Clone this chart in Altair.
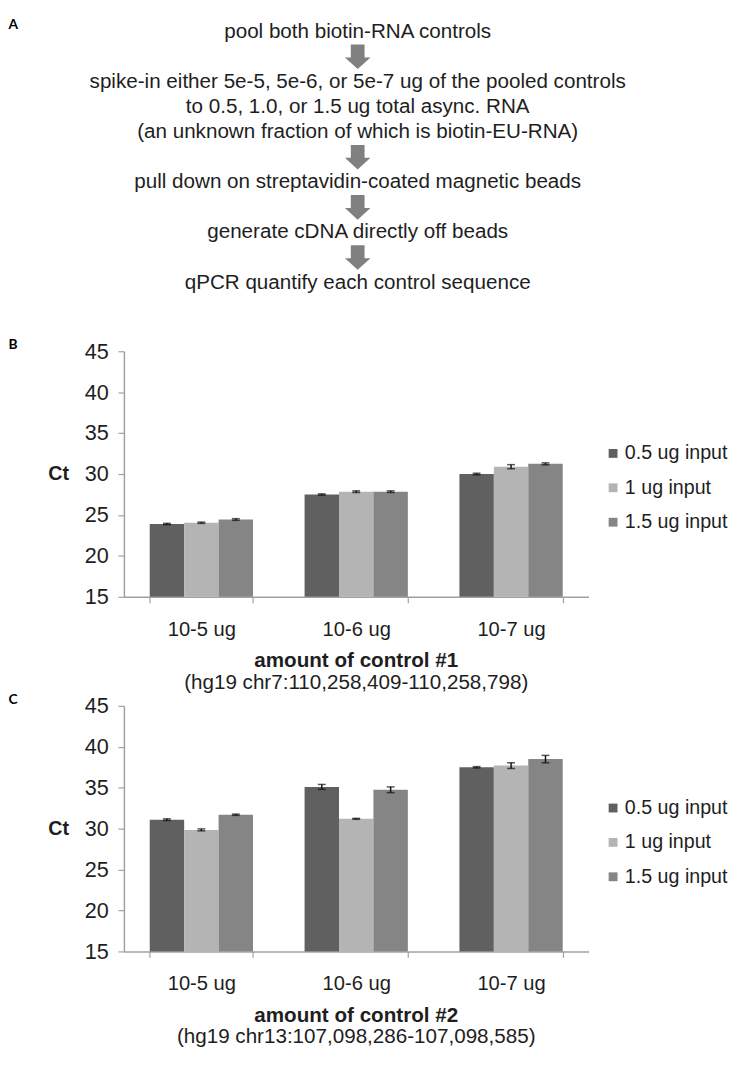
import altair as alt
import pandas as pd

# ---------------- data ----------------
flow_lines = [
    "pool both biotin-RNA controls",
    "spike-in either 5e-5, 5e-6, or 5e-7 ug of the pooled controls",
    "to 0.5, 1.0, or 1.5 ug total async. RNA",
    "(an unknown fraction of which is biotin-EU-RNA)",
    "pull down on streptavidin-coated magnetic beads",
    "generate cDNA directly off beads",
    "qPCR quantify each control sequence",
]
flow_rows = [0, 2, 3, 4, 6, 8, 10]
arrow_rows = [1, 5, 7, 9]

categories = ["10-5 ug", "10-6 ug", "10-7 ug"]
series = ["0.5 ug input", "1 ug input", "1.5 ug input"]
colors = ["#606060", "#b4b4b4", "#858585"]

ct1_05 = [23.9, 27.5, 30.0]
ct1_10 = [24.05, 27.85, 30.9]
ct1_15 = [24.45, 27.85, 31.25]
err1_05 = [0.08, 0.08, 0.1]
err1_10 = [0.08, 0.1, 0.25]
err1_15 = [0.1, 0.1, 0.12]

ct2_05 = [31.1, 35.1, 37.5]
ct2_10 = [29.85, 31.2, 37.7]
ct2_15 = [31.7, 34.75, 38.5]
err2_05 = [0.1, 0.3, 0.08]
err2_10 = [0.12, 0.06, 0.35]
err2_15 = [0.08, 0.35, 0.45]

y_ticks = [15, 20, 25, 30, 35, 40, 45]

FONT = "Liberation Sans"
TXT = "#1e1e1e"
AXC = "#a0a0a0"


def make_df(vals, errs):
    rows = []
    for s, v, e in zip(series, vals, errs):
        for c, ct, er in zip(categories, v, e):
            rows.append({"amount": c, "input": s, "ct": ct, "lo": ct - er, "hi": ct + er})
    return pd.DataFrame(rows)


df1 = make_df([ct1_05, ct1_10, ct1_15], [err1_05, err1_10, err1_15])
df2 = make_df([ct2_05, ct2_10, ct2_15], [err2_05, err2_10, err2_15])

W, H = 473, 250

x_enc = alt.X(
    "amount:N", sort=categories,
    scale=alt.Scale(paddingInner=0.333, paddingOuter=0.1667),
    axis=alt.Axis(title=None, labelAngle=0, tickBand="extent", tickSize=6,
                  labelPadding=17, labelFontSize=20.5, labelFont=FONT, labelColor=TXT,
                  domainColor=AXC, tickColor=AXC, domainWidth=1.5, tickWidth=1.2),
)
xo_enc = alt.XOffset("input:N", sort=series, scale=alt.Scale(paddingInner=0, paddingOuter=0))

y_axis = alt.Axis(
    values=y_ticks, title="Ct", titleAngle=0, titleX=-67, titleY=125,
    titleAlign="center", titleBaseline="middle", titleFont=FONT, titleFontSize=20,
    titleFontWeight="bold", titleColor=TXT, labelFontSize=22, labelFont=FONT,
    labelColor=TXT, labelPadding=10, tickSize=6, labelFlush=False, labelOverlap=False,
    domainColor=AXC, tickColor=AXC, domainWidth=1.5, tickWidth=1.2, grid=False,
)
y_scale = alt.Scale(domain=[15, 45], nice=False, zero=False)


def ychan(field):
    return alt.Y(field, scale=y_scale, axis=y_axis)


def panel(df, letter, title, subtitle):
    base = alt.Chart(df)
    bars = base.mark_bar().encode(
        x=x_enc, xOffset=xo_enc, y=ychan("ct:Q"), y2=alt.datum(15),
        color=alt.Color(
            "input:N", scale=alt.Scale(domain=series, range=colors),
            legend=alt.Legend(title=None, orient="none", legendX=488, legendY=94,
                              labelFontSize=20, labelFont=FONT, labelColor=TXT,
                              symbolType="square", symbolSize=81, symbolStrokeWidth=0,
                              rowPadding=15, labelOffset=2, padding=0, labelLimit=0),
        ),
    )
    rules = base.mark_rule(color="#111111", strokeWidth=1.5).encode(
        x=x_enc, xOffset=xo_enc, y=ychan("lo:Q"), y2="hi:Q")
    cap_lo = base.mark_tick(color="#111111", size=8, thickness=1.5).encode(
        x=x_enc, xOffset=xo_enc, y=ychan("lo:Q"))
    cap_hi = base.mark_tick(color="#111111", size=8, thickness=1.5).encode(
        x=x_enc, xOffset=xo_enc, y=ychan("hi:Q"))
    lab = alt.Chart(pd.DataFrame({"t": [letter]})).mark_text(
        font="Lato", fontWeight="bold", fontSize=14, align="left", baseline="middle",
        color="#000000").encode(text="t:N", x=alt.value(-117.5), y=alt.value(-6))
    return alt.layer(bars, rules, cap_lo, cap_hi, lab).properties(
        width=W, height=H,
        title=alt.TitleParams(text=title, subtitle=subtitle, orient="bottom", anchor="middle",
                              font=FONT, fontSize=21, fontWeight="bold", color=TXT,
                              subtitleFont=FONT, subtitleFontSize=21, subtitleColor=TXT,
                              offset=11, subtitlePadding=1),
    )


panelB = panel(df1, "B", "amount of control #1", "(hg19 chr7:110,258,409-110,258,798)")
panelC = panel(df2, "C", "amount of control #2", "(hg19 chr13:107,098,286-107,098,585)")

# ---------------- flow panel ----------------
HA = 229
flow_y = alt.Scale(domain=[-0.576, 8.39], reverse=True, nice=False, zero=False)
flow_df = pd.DataFrame({"line": flow_lines, "row": flow_rows})
arrow_df = pd.DataFrame({"row": arrow_rows})

arrow_path = "M-0.56,-1 L0.56,-1 L0.56,0.05 L1.04,0.05 L0,1 L-1.04,0.05 L-0.56,0.05 Z"

flow_text = alt.Chart(flow_df).mark_text(
    font=FONT, fontSize=21, color=TXT, align="center", baseline="middle"
).encode(text="line:N", x=alt.value(238), y=alt.Y("row:Q", scale=flow_y, axis=None))
flow_arrows = alt.Chart(arrow_df).mark_point(
    shape=arrow_path, filled=True, size=625, color="#808080", opacity=1, strokeWidth=0
).encode(x=alt.value(238), y=alt.Y("row:Q", scale=flow_y, axis=None))
labA = alt.Chart(pd.DataFrame({"t": ["A"]})).mark_text(
    font="Lato", fontWeight="bold", fontSize=14, align="left", baseline="middle",
    color="#000000").encode(text="t:N", x=alt.value(-117.5), y=alt.value(7.5))
panelA = alt.layer(flow_text, flow_arrows, labA).properties(width=W, height=HA)

chart = (
    alt.vconcat(panelA, panelB, panelC, spacing=111, bounds="flush")
    .resolve_scale(color="independent", y="independent", x="independent")
    .properties(padding=0)
    .configure_view(stroke=None)
    .configure_axis(grid=False)
)

chart.save("out.html", embed_options={"renderer": "svg", "actions": False})
